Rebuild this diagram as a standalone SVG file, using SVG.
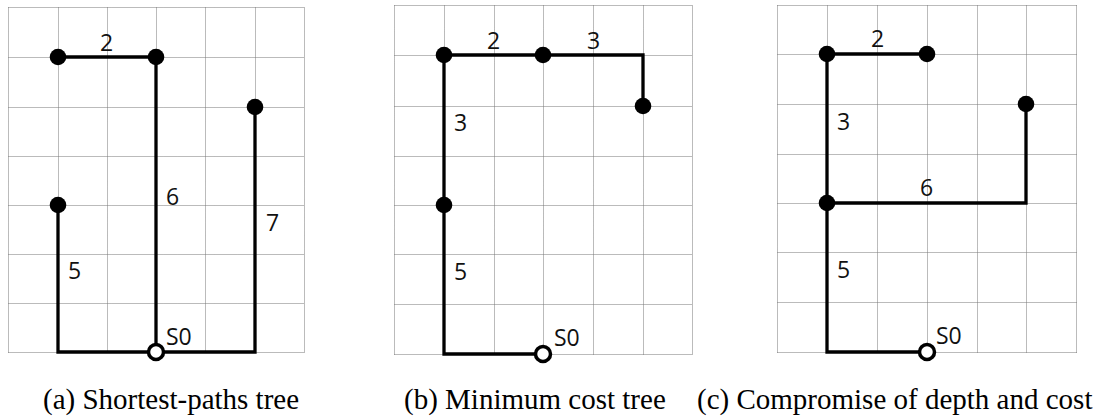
<svg xmlns="http://www.w3.org/2000/svg" width="1103" height="419" viewBox="0 0 1103 419">
<style>
.grid{fill:none;stroke:#777;stroke-width:1;stroke-dasharray:1 1}
.edge{fill:none;stroke:#000;stroke-width:3.3;stroke-linejoin:miter;stroke-linecap:square}
.node{fill:#000}
.src{fill:#fff;stroke:#000;stroke-width:3.5}
.lbl{font-family:"Open Sans","Liberation Sans",sans-serif;font-size:23px;fill:#111}
.cap{font-family:"Liberation Serif","Times New Roman",serif;font-size:29px;fill:#000}
</style>
<rect width="1103" height="419" fill="#fff"/>
<g id="grids">
<path class="grid" d="M8.5 7.5V352.5M58.5 7.5V352.5M107.5 7.5V352.5M156.5 7.5V352.5M205.5 7.5V352.5M255.5 7.5V352.5M304.5 7.5V352.5M8.5 7.5H304.5M8.5 57.5H304.5M8.5 107.5H304.5M8.5 156.5H304.5M8.5 205.5H304.5M8.5 254.5H304.5M8.5 303.5H304.5M8.5 352.5H304.5"/>
<path class="grid" d="M394.5 5.5V354.5M444.5 5.5V354.5M494.5 5.5V354.5M543.5 5.5V354.5M593.5 5.5V354.5M643.5 5.5V354.5M692.5 5.5V354.5M394.5 5.5H692.5M394.5 55.5H692.5M394.5 106.5H692.5M394.5 156.5H692.5M394.5 205.5H692.5M394.5 254.5H692.5M394.5 304.5H692.5M394.5 354.5H692.5"/>
<path class="grid" d="M777.5 5.5V352.5M827.5 5.5V352.5M877.5 5.5V352.5M927.5 5.5V352.5M977.5 5.5V352.5M1026.5 5.5V352.5M1076.5 5.5V352.5M777.5 5.5H1076.5M777.5 54.5H1076.5M777.5 104.5H1076.5M777.5 154.5H1076.5M777.5 203.5H1076.5M777.5 252.5H1076.5M777.5 302.5H1076.5M777.5 352.5H1076.5"/>
</g>
<g id="connectors">
<path class="edge" d="M58 57H156"/>
<path class="edge" d="M156 57V352"/>
<path class="edge" d="M255 107V352H156"/>
<path class="edge" d="M58 205V352H156"/>
<path class="edge" d="M444 55H643V106"/>
<path class="edge" d="M444 55V354H543"/>
<path class="edge" d="M827 54H927"/>
<path class="edge" d="M827 54V352H927"/>
<path class="edge" d="M827 203H1026V104"/>
</g>
<g id="tree-a">
<circle class="node" cx="58" cy="57" r="8.3"/>
<circle class="node" cx="156" cy="57" r="8.3"/>
<circle class="node" cx="255" cy="107" r="8.3"/>
<circle class="node" cx="58" cy="205" r="8.3"/>
<circle class="src" cx="156" cy="352" r="7.5"/>
<text class="lbl" x="100" y="51">2</text>
<text class="lbl" x="166" y="205">6</text>
<text class="lbl" x="266" y="231">7</text>
<text class="lbl" x="68" y="279">5</text>
<text class="lbl" x="166" y="345">S0</text>
<text class="cap" x="43" y="409">(a) Shortest-paths tree</text>
</g>
<g id="tree-b">
<circle class="node" cx="444" cy="55" r="8.3"/>
<circle class="node" cx="543" cy="55" r="8.3"/>
<circle class="node" cx="643" cy="106" r="8.3"/>
<circle class="node" cx="444" cy="205" r="8.3"/>
<circle class="src" cx="543" cy="354" r="7.5"/>
<text class="lbl" x="487" y="49">2</text>
<text class="lbl" x="587" y="49">3</text>
<text class="lbl" x="454" y="131">3</text>
<text class="lbl" x="454" y="280">5</text>
<text class="lbl" x="554" y="346">S0</text>
<text class="cap" x="404" y="409">(b) Minimum cost tree</text>
</g>
<g id="tree-c">
<circle class="node" cx="827" cy="54" r="8.3"/>
<circle class="node" cx="927" cy="54" r="8.3"/>
<circle class="node" cx="1026" cy="104" r="8.3"/>
<circle class="node" cx="827" cy="203" r="8.3"/>
<circle class="src" cx="927" cy="352" r="7.5"/>
<text class="lbl" x="871" y="47">2</text>
<text class="lbl" x="837" y="130">3</text>
<text class="lbl" x="920" y="196">6</text>
<text class="lbl" x="837" y="278">5</text>
<text class="lbl" x="936" y="344">S0</text>
<text class="cap" x="697" y="409">(c) Compromise of depth and cost</text>
</g>
</svg>
